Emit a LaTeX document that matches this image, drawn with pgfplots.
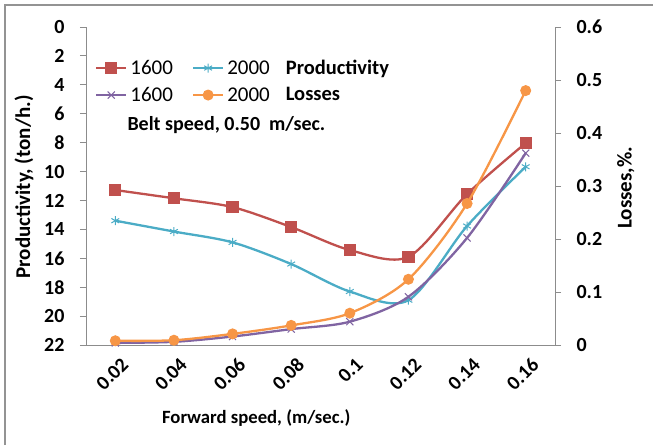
\documentclass[border=0pt]{standalone}
\usepackage{pgfplots}
\pgfplotsset{compat=1.18}
\usepackage{fontspec}
\setmainfont{Carlito}
\definecolor{cred}{HTML}{C0504D}
\definecolor{caqua}{HTML}{4BACC6}
\definecolor{cpurp}{HTML}{8064A2}
\definecolor{corange}{HTML}{F79646}
\definecolor{axgray}{HTML}{8C8C8C}

% x: category index 1..8 = 0.02 ... 0.16 m/sec
\pgfplotstableread{
x  p1600 p2000
1  11.28 13.40
2  11.85 14.15
3  12.46 14.90
4  13.84 16.40
5  15.43 18.30
6  15.90 18.90
7  11.56 13.77
8  8.03  9.67
}\prod
\pgfplotstableread{
x  l1600 l2000
1  0.004 0.008
2  0.006 0.009
3  0.016 0.021
4  0.030 0.037
5  0.044 0.060
6  0.091 0.124
7  0.202 0.267
8  0.362 0.480
}\loss

\pgfplotsset{
  base/.style={
    scale only axis, width=469pt, height=318pt,
    xmin=0.5, xmax=8.5,
    axis line style={axgray, line width=0.9pt},
    tick style={axgray, line width=0.9pt},
    tick align=outside, major tick length=6pt,
    tick label style={font=\bfseries\fontsize{20}{20}\selectfont},
    /pgf/number format/assume math mode=true,
    legend style={draw=none, fill=none, anchor=west,
      font=\fontsize{21}{21}\selectfont, inner sep=0pt,
      /tikz/every odd column/.append style={column sep=1pt},
      /tikz/every even column/.append style={column sep=17pt}},
    legend cell align=left,
    legend image code/.code={%
      \draw[mark repeat=2,mark phase=2] plot coordinates {(0pt,0pt) (15pt,0pt) (30pt,0pt)};},
  },
}

\begin{document}
\begin{tikzpicture}
\begin{axis}[base,
  axis x line*=bottom, axis y line*=left,
  y dir=reverse, ymin=0, ymax=22, ytick={0,2,...,22},
  xtick={1,...,8}, major x tick style={draw=none},
  xticklabels={0.02,0.04,0.06,0.08,0.1,0.12,0.14,0.16},
  xticklabel style={rotate=45, anchor=east, yshift=-14pt, xshift=3pt},
  extra x ticks={0.5,1.5,...,8.5}, extra x tick labels={},
  extra x tick style={major tick length=7pt, tick style={axgray}},
  yticklabel style={xshift=-12pt},
  xlabel={Forward speed, (m/sec.)},
  xlabel style={font=\bfseries\fontsize{18.7}{18.7}\selectfont,
    at={(axis description cs:0.363,-0.23)}, anchor=center},
  ylabel={Productivity, (ton/h.)},
  ylabel style={font=\bfseries\fontsize{21}{21}\selectfont,
    at={(axis description cs:-0.132,0.497)}, anchor=center},
  legend columns=3,
  legend style={at={(axis description cs:0.019,0.871)}},
]
\addplot[cred, line width=2.3pt, smooth, mark=square*, mark size=5pt] table[x=x, y=p1600] {\prod};
\addlegendentry{1600}
\addplot[caqua, line width=2.3pt, smooth, mark=asterisk, mark size=4.5pt, mark options={line width=1pt}] table[x=x, y=p2000] {\prod};
\addlegendentry{2000}
\addlegendimage{empty legend}
\addlegendentry{\hspace*{-6pt}\bfseries\fontsize{20.5}{20.5}\selectfont Productivity}
\node[anchor=west, font=\bfseries\fontsize{20}{20}\selectfont] at (axis description cs:0.081,0.692) {Belt speed, 0.50\ \ m/sec.};
\end{axis}
\begin{axis}[base,
  axis x line=none, axis y line*=right,
  ymin=0, ymax=0.6, ytick={0,0.1,...,0.6},
  yticklabel style={xshift=12pt, /pgf/number format/fixed, /pgf/number format/precision=1},
  ylabel={Losses,\%.},
  ylabel style={font=\bfseries\fontsize{21}{21}\selectfont,
    at={(axis description cs:1.151,0.494)}, anchor=center},
  legend columns=3,
  legend style={at={(axis description cs:0.019,0.786)}},
]
\addplot[cpurp, line width=2.3pt, smooth, mark=x, mark size=5pt, mark options={line width=1pt}] table[x=x, y=l1600] {\loss};
\addlegendentry{1600}
\addplot[corange, line width=2.3pt, smooth, mark=*, mark size=4.3pt] table[x=x, y=l2000] {\loss};
\addlegendentry{2000}
\addlegendimage{empty legend}
\addlegendentry{\hspace*{-6pt}\bfseries\fontsize{20.5}{20.5}\selectfont Losses}
\end{axis}
\draw[gray!85, line width=2.5pt] (-81pt,-100pt) -- (-81pt,340pt) -- (567pt,340pt);
\pgfresetboundingbox
\useasboundingbox (-86pt,-100pt) rectangle (567pt,345pt);
\end{tikzpicture}
\end{document}
